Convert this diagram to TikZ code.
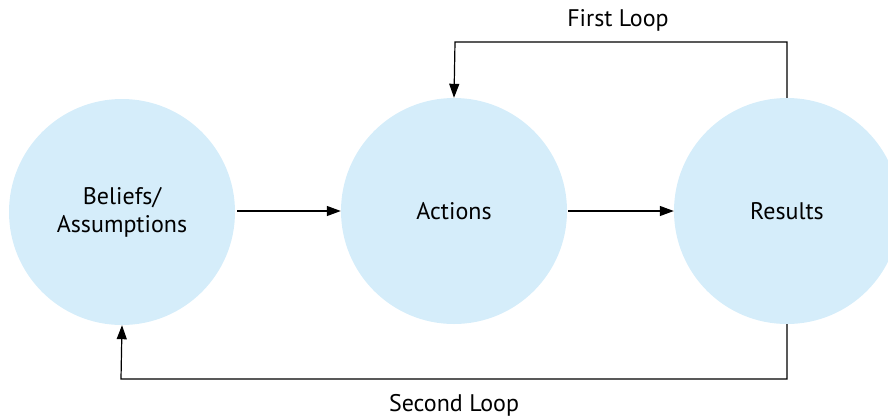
\documentclass[tikz,border=0pt]{standalone}
\usepackage{fontspec}
\setmainfont{PT Sans}
\usetikzlibrary{arrows.meta}
\definecolor{circfill}{HTML}{D5EDFA}
\begin{document}
\begin{tikzpicture}[x=1pt,y=-1pt,
  bubble/.style={circle,fill=circfill,minimum size=226pt,inner sep=0pt,align=center,font=\fontsize{24}{28}\selectfont},
  link/.style={line width=1.2pt,-{Triangle[length=14pt,width=10pt]}},
  lbl/.style={font=\fontsize{24}{28}\selectfont}]
\useasboundingbox (0,0) rectangle (888,418);
\clip (0,0) rectangle (888,418);
\node[bubble] (b) at (122,212) {Beliefs/\\Assumptions};
\node[bubble] (a) at (454,211) {\raisebox{-1pt}{Actions}};
\node[bubble] (r) at (787,211) {\raisebox{-1pt}{Results}};
\coordinate (t1) at (787,42);
\coordinate (t2) at (455,42);
\coordinate (s1) at (787,379);
\coordinate (s2) at (121,379);
\draw[link] (237,211) -- (a.west);
\draw[link] (568,211) -- (r.west);
\draw[link] (r.north) -- (t1) -- (t2) -- (a.north);
\draw[link] (r.south) -- (s1) -- (s2) -- (b.south);
\node[lbl] (fl) at (618,20) {First Loop};
\node[lbl] (sl) at (454,405) {Second Loop};
\end{tikzpicture}
\end{document}
